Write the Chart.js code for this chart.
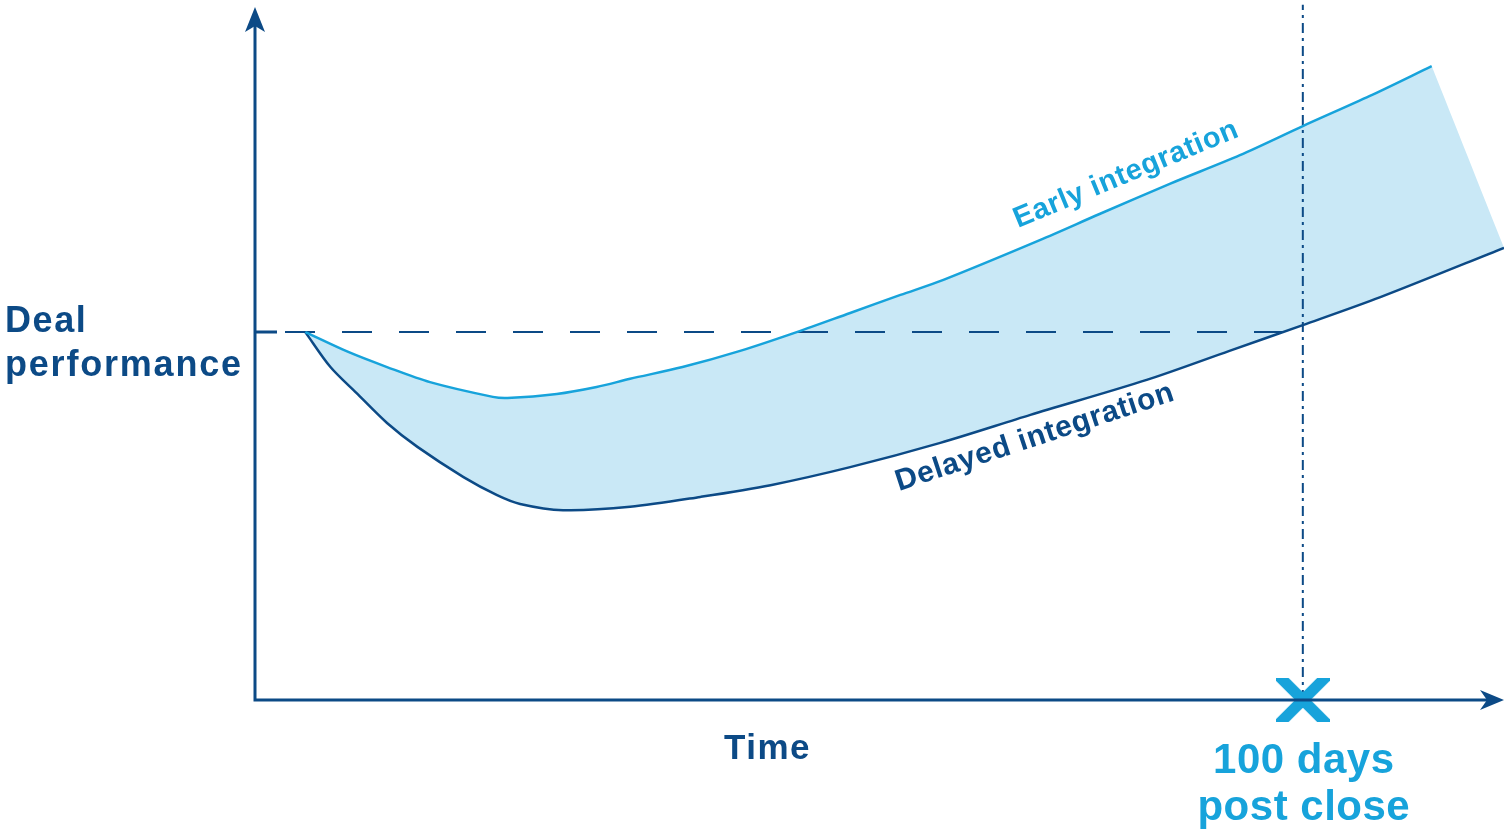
<!DOCTYPE html>
<html>
<head>
<meta charset="utf-8">
<title>Deal performance over time</title>
<script src="https://cdn.jsdelivr.net/npm/chart.js@4.4.1/dist/chart.umd.min.js"></script>
<style>
  html, body { margin: 0; padding: 0; background: #fff; }
  #wrap { width: 1504px; height: 833px; }
</style>
</head>
<body>
<div id="wrap"><canvas id="chart" width="1504" height="833"></canvas></div>
<script>
// time in days since close, performance as index (100 = level at close)
const earlyDays = [4.8, 8.9, 12.6, 16.7, 22.7, 24.1, 28.8, 32.6, 35.8, 40.8, 46.3, 51.7, 56.8, 61.6, 65.7, 74.9, 80.6, 87.3, 94.0, 100.0, 106.4, 112.3];
const earlyPerf = [100.0, 94.6, 90.5, 86.4, 82.4, 82.1, 83.2, 85.1, 87.3, 90.5, 94.9, 100.0, 105.2, 110.1, 114.2, 125.0, 132.1, 140.3, 148.1, 156.0, 164.2, 172.3];

const delayedDays = [4.8, 7.2, 9.7, 12.6, 15.5, 19.9, 23.1, 25.3, 29.4, 35.8, 42.5, 49.2, 56.8, 65.4, 74.0, 85.1, 93.0, 100.0, 107.4, 119.2];
const delayedPerf = [100.0, 90.5, 83.4, 75.3, 68.8, 60.6, 55.7, 53.3, 51.6, 52.5, 55.2, 58.4, 63.3, 69.9, 77.5, 87.0, 94.9, 101.9, 109.5, 122.9];

const baselineDays = [0, 98.6];
const baselinePerf = [100, 100];

const markerDays = 100;
const markerLine = [0, 189];

const darkBlue = '#0c4a86';
const cyan = '#17a3db';
const bandFill = '#c9e8f6';
const curveTension = 0.3;

const toPoints = (xs, ys) => xs.map((x, i) => ({ x: x, y: ys[i] }));
const earlyPts = toPoints(earlyDays, earlyPerf);
const delayedPts = toPoints(delayedDays, delayedPerf);
// closed outline: early forward, delayed backward; the end points are doubled
// so the band's curve matches both lines and the right edge stays straight
const delayedRev = delayedPts.slice().reverse();
const bandPts = earlyPts.concat([earlyPts[earlyPts.length - 1], delayedRev[0]], delayedRev);

// bold X marker sitting on the time axis
const xMark = document.createElement('canvas');
xMark.width = 54;
xMark.height = 44;
(function () {
  const c = xMark.getContext('2d');
  c.strokeStyle = cyan;
  c.lineWidth = 11;
  c.beginPath();
  c.moveTo(0, -5); c.lineTo(54, 49);
  c.moveTo(54, -5); c.lineTo(0, 49);
  c.stroke();
})();

const arrow = (ctx, tipX, tipY, dir) => {
  ctx.beginPath();
  if (dir === 'up') {
    ctx.moveTo(tipX, tipY);
    ctx.lineTo(tipX + 10, tipY + 25);
    ctx.lineTo(tipX, tipY + 19);
    ctx.lineTo(tipX - 10, tipY + 25);
  } else {
    ctx.moveTo(tipX, tipY);
    ctx.lineTo(tipX - 24, tipY + 10);
    ctx.lineTo(tipX - 17, tipY);
    ctx.lineTo(tipX - 24, tipY - 10);
  }
  ctx.closePath();
  ctx.fill();
};

const text = (ctx, str, x, y, font, color, spacing, align, angle) => {
  ctx.save();
  ctx.translate(x, y);
  if (angle) ctx.rotate(-angle * Math.PI / 180);
  ctx.font = font;
  ctx.fillStyle = color;
  ctx.letterSpacing = (spacing || 0) + 'px';
  ctx.textAlign = align || 'left';
  ctx.textBaseline = 'alphabetic';
  ctx.fillText(str, 0, 0);
  ctx.restore();
};

const axesPlugin = {
  id: 'axesPlugin',
  afterDatasetsDraw(chart) {
    const ctx = chart.ctx;
    const xs = chart.scales.x, ys = chart.scales.y;
    const x0 = xs.getPixelForValue(0);
    const y0 = ys.getPixelForValue(0);
    const yBase = ys.getPixelForValue(100);
    ctx.save();
    ctx.strokeStyle = darkBlue;
    ctx.fillStyle = darkBlue;
    ctx.lineWidth = 3;
    ctx.beginPath();
    ctx.moveTo(x0, y0 + 1.5);
    ctx.lineTo(x0, 20);
    ctx.moveTo(x0 - 1.5, y0);
    ctx.lineTo(1490, y0);
    ctx.moveTo(x0, yBase);
    ctx.lineTo(x0 + 22, yBase);
    ctx.stroke();
    arrow(ctx, x0, 7, 'up');
    arrow(ctx, 1504, y0, 'right');
    ctx.restore();

    const f = 'bold 36px "Liberation Sans", Arial, sans-serif';
    text(ctx, 'Deal', 5, 332, f, darkBlue, 1.6);
    text(ctx, 'performance', 5, 376, f, darkBlue, 1.8);
    text(ctx, 'Time', 724, 759, 'bold 35px "Liberation Sans", Arial, sans-serif', darkBlue, 1.5);

    const mx = xs.getPixelForValue(markerDays);
    const f2 = 'bold 42px "Liberation Sans", Arial, sans-serif';
    text(ctx, '100 days', mx + 1, 773, f2, cyan, 0.5, 'center');
    text(ctx, 'post close', mx + 1, 820, f2, cyan, 0.5, 'center');

    text(ctx, 'Early integration', 1018, 228, 'bold 29px "Liberation Sans", Arial, sans-serif', cyan, 0.7, 'left', 22.5);
    text(ctx, 'Delayed integration', 899, 491, 'bold 30px "Liberation Sans", Arial, sans-serif', darkBlue, 0.7, 'left', 18.2);
  }
};

new Chart(document.getElementById('chart'), {
  type: 'line',
  data: {
    datasets: [
      {
        label: 'Early integration',
        data: earlyPts,
        borderColor: cyan,
        borderWidth: 2.5,
        pointRadius: 0,
        tension: curveTension,
        fill: false
      },
      {
        label: 'Delayed integration',
        data: delayedPts,
        borderColor: darkBlue,
        borderWidth: 2.5,
        pointRadius: 0,
        tension: curveTension,
        fill: false
      },
      {
        label: '100 days',
        data: [{ x: markerDays, y: 0 }],
        showLine: false,
        pointStyle: xMark,
        pointRadius: 22,
        clip: false
      },
      {
        label: 'Marker line',
        data: [{ x: markerDays, y: markerLine[0] }, { x: markerDays, y: markerLine[1] }],
        borderColor: darkBlue,
        borderWidth: 2,
        borderDash: [10, 5, 3, 5],
        pointRadius: 0,
        fill: false
      },
      {
        label: 'Baseline',
        data: toPoints(baselineDays, baselinePerf),
        borderColor: darkBlue,
        borderWidth: 2,
        borderDash: [30, 27],
        borderDashOffset: 27,
        pointRadius: 0,
        fill: false
      },
      {
        label: 'Band',
        data: bandPts,
        borderColor: 'rgba(0,0,0,0)',
        borderWidth: 1,
        backgroundColor: bandFill,
        pointRadius: 0,
        tension: curveTension,
        fill: 'shape'
      }
    ]
  },
  options: {
    responsive: false,
    animation: false,
    devicePixelRatio: 1,
    layout: { autoPadding: false, padding: { left: 255, right: 0, top: 1, bottom: 133 } },
    scales: {
      x: { type: 'linear', min: 0, max: 119.2, display: false },
      y: { type: 'linear', min: 0, max: 190, display: false }
    },
    plugins: {
      legend: { display: false },
      tooltip: { enabled: false }
    }
  },
  plugins: [axesPlugin]
});
</script>
</body>
</html>
